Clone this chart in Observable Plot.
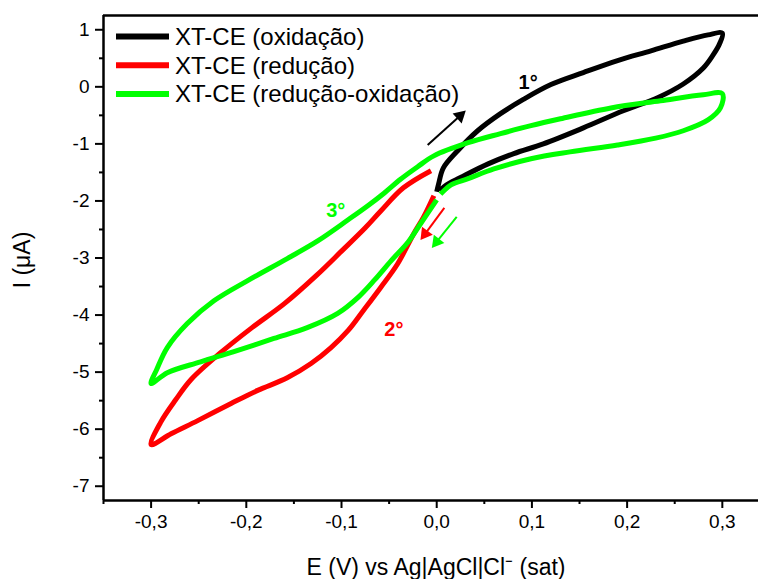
<!DOCTYPE html>
<html>
<head>
<meta charset="utf-8">
<script src="https://cdn.jsdelivr.net/npm/d3@7"></script>
<script src="https://cdn.jsdelivr.net/npm/@observablehq/plot@0.6"></script>
<style>
  html, body { margin: 0; padding: 0; background: #fff; }
  #chart { width: 758px; height: 579px; }
</style>
</head>
<body>
<div id="chart"></div>
<script>
// ---- data (E in V, I in µA), ordered along the scan ----
const seriesNames = ["XT-CE (oxidação)", "XT-CE (redução)", "XT-CE (redução-oxidação)"];
const seriesColors = ["#000000", "#ff0000", "#00ff00"];

const oxE = [0.000, 0.002, 0.007, 0.022, 0.043, 0.067, 0.091, 0.120, 0.154, 0.190, 0.225, 0.259, 0.285, 0.300,
             0.297, 0.290, 0.280, 0.259, 0.232, 0.196, 0.154, 0.112, 0.081, 0.054, 0.025, 0.010, 0.003];
const oxI = [-1.84, -1.70, -1.42, -1.12, -0.77, -0.47, -0.22, 0.04, 0.25, 0.46, 0.63, 0.80, 0.91, 0.94,
             0.75, 0.55, 0.33, 0.05, -0.19, -0.42, -0.72, -1.00, -1.17, -1.35, -1.59, -1.72, -1.82];

const redE = [-0.003, -0.014, -0.024, -0.041, -0.059, -0.077, -0.093, -0.111, -0.132, -0.157, -0.188, -0.216, -0.251, -0.279, -0.300,
              -0.290, -0.274, -0.258, -0.227, -0.194, -0.160, -0.126, -0.100, -0.075, -0.059, -0.035, -0.006];
const redI = [-1.91, -2.29, -2.57, -3.10, -3.52, -3.92, -4.27, -4.57, -4.85, -5.10, -5.32, -5.55, -5.85, -6.08, -6.27,
              -5.88, -5.48, -5.13, -4.66, -4.22, -3.80, -3.30, -2.88, -2.47, -2.18, -1.77, -1.47];

const roE = [0.000, -0.017, -0.030, -0.048, -0.065, -0.082, -0.104, -0.136, -0.171, -0.213, -0.248, -0.283, -0.300,
             -0.294, -0.283, -0.262, -0.234, -0.199, -0.157, -0.125, -0.093, -0.072, -0.055, -0.038, -0.020, -0.003,
             0.033, 0.067, 0.099, 0.130, 0.183, 0.235, 0.280, 0.300,
             0.298, 0.285, 0.259, 0.230, 0.190, 0.140, 0.099, 0.060, 0.033, 0.015, 0.004];
const roI = [-1.98, -2.40, -2.72, -3.05, -3.38, -3.68, -3.97, -4.22, -4.41, -4.64, -4.82, -5.01, -5.20,
             -4.95, -4.57, -4.15, -3.75, -3.40, -3.01, -2.70, -2.33, -2.08, -1.86, -1.62, -1.40, -1.21,
             -0.98, -0.82, -0.68, -0.56, -0.37, -0.245, -0.14, -0.12,
             -0.37, -0.58, -0.77, -0.90, -1.02, -1.14, -1.26, -1.44, -1.61, -1.72, -1.88];

// axis ticks
const xTicks = [-0.3, -0.2, -0.1, 0.0, 0.1, 0.2, 0.3];
const xMinor = [-0.35, -0.25, -0.15, -0.05, 0.05, 0.15, 0.25];
const yTicks = [1, 0, -1, -2, -3, -4, -5, -6, -7];
const yMinor = [0.5, -0.5, -1.5, -2.5, -3.5, -4.5, -5.5, -6.5];
const xDomain = [-0.35, 0.338];
const yDomain = [-7.25, 1.25];

// annotations (data units)
const arrowX1 = [-0.0095, 0.008, 0.021];
const arrowY1 = [-1.02, -2.12, -2.28];
const arrowX2 = [0.028, -0.015, -0.003];
const arrowY2 = [-0.455, -2.64, -2.78];
const cycleLabels = ["1°", "2°", "3°"];
const cycleE = [0.096, -0.045, -0.106];
const cycleI = [0.07, -4.26, -2.17];

const xLabel = "E (V) vs Ag|AgCl|Cl⁻ (sat)";
const yLabel = "I (μA)";

// ---- layout ----
const W = 758, H = 579, mL = 103, mR = 0, mT = 15, mB = 79;
const pxPerX = (W - mL - mR) / (xDomain[1] - xDomain[0]);
const pxPerY = (H - mT - mB) / (yDomain[1] - yDomain[0]);

// ---- build tables ----
const toRows = (E, I) => E.map((e, i) => ({E: e, I: I[i]}));
const curves = [toRows(oxE, oxI), toRows(redE, redI), toRows(roE, roI)];
const arrows = arrowX1.map((x, i) => {
  const dxp = (arrowX2[i] - x) * pxPerX;
  const dyp = -(arrowY2[i] - arrowY1[i]) * pxPerY;
  const len = Math.hypot(dxp, dyp);
  const back = 4.5; // px back from tip for the head centroid
  return {
    x1: x, y1: arrowY1[i],
    x2: arrowX2[i] - (dxp / len) * 7 / pxPerX,
    y2: arrowY2[i] + (dyp / len) * 7 / pxPerY,
    hx: arrowX2[i] - (dxp / len) * back / pxPerX,
    hy: arrowY2[i] + (dyp / len) * back / pxPerY,
    rot: Math.atan2(dxp, -dyp) * 180 / Math.PI,
    c: seriesColors[i]
  };
});
const cycles = cycleLabels.map((t, i) => ({t, E: cycleE[i], I: cycleI[i], c: seriesColors[i]}));

const font = "'Liberation Sans', Arial, sans-serif";
const fmtX = d => d.toFixed(1).replace(".", ",");

const plot = Plot.plot({
  width: W,
  height: H,
  marginLeft: mL,
  marginRight: mR,
  marginTop: mT,
  marginBottom: mB,
  style: {fontFamily: font, fontSize: "19px", background: "#fff", color: "#000", overflow: "visible"},
  x: {domain: xDomain},
  y: {domain: yDomain},
  marks: [
    Plot.axisX(xTicks, {tickSize: 8, tickPadding: 6, strokeWidth: 2, tickFormat: fmtX, label: null, fontSize: 19}),
    Plot.axisX(xMinor, {tickSize: 4, strokeWidth: 2, tickFormat: () => "", label: null}),
    Plot.axisY(yTicks, {tickSize: 8, tickPadding: 6, strokeWidth: 2, tickFormat: d => String(d), label: null, fontSize: 19}),
    Plot.axisY(yMinor, {tickSize: 4, strokeWidth: 2, tickFormat: () => "", label: null}),
    Plot.ruleX([xDomain[0]], {stroke: "#000", strokeWidth: 2.5}),
    Plot.ruleY([yDomain[0], yDomain[1]], {stroke: "#000", strokeWidth: 2.5}),
    ...curves.map((rows, i) => Plot.line(rows, {
      x: "E", y: "I", stroke: seriesColors[i], strokeWidth: 5,
      curve: "catmull-rom", strokeLinejoin: "round", strokeLinecap: "butt"
    })),
    Plot.link(arrows, {x1: "x1", y1: "y1", x2: "x2", y2: "y2", stroke: "c", strokeWidth: 2}),
    Plot.dot(arrows, {x: "hx", y: "hy", symbol: "triangle", r: 5, fill: "c", stroke: "none", rotate: "rot"}),
    Plot.text(cycles, {x: "E", y: "I", text: "t", fill: "c", fontSize: 20, fontWeight: "bold"}),
    Plot.text([xLabel], {frameAnchor: "bottom", dy: 67, dx: 5, fontSize: 23, lineAnchor: "middle"}),
    Plot.text([yLabel], {frameAnchor: "left", rotate: -90, dx: -81, dy: 2, fontSize: 23, lineAnchor: "middle", textAnchor: "middle"})
  ]
});

document.getElementById("chart").appendChild(plot);

// legend inside the plot area (top-left)
const svg = d3.select(plot);
const lg = svg.append("g").attr("font-family", font).attr("font-size", 24).attr("text-anchor", "start");
seriesNames.forEach((name, i) => {
  const y = 36.5 + 28.7 * i;
  lg.append("line").attr("x1", 116).attr("x2", 169).attr("y1", y).attr("y2", y)
    .attr("stroke", seriesColors[i]).attr("stroke-width", 6);
  lg.append("text").attr("x", 175).attr("y", y).attr("dy", "0.35em").attr("fill", "#000").text(name);
});
</script>
</body>
</html>
